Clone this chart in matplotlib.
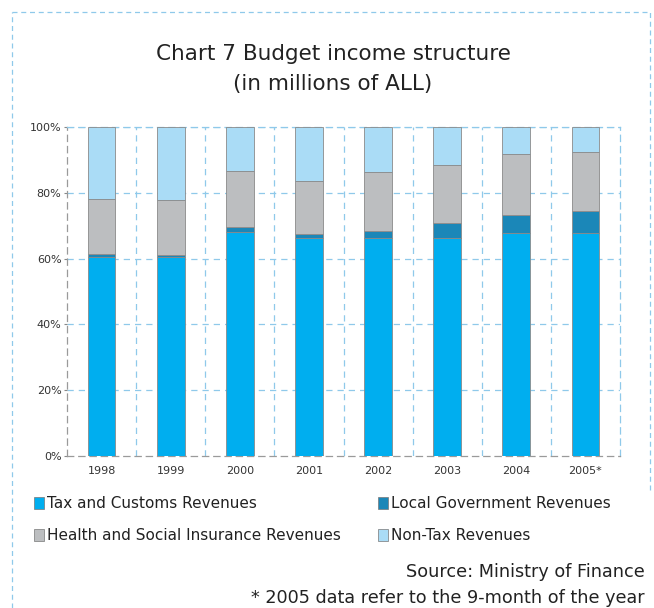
import numpy as np
import matplotlib.pyplot as plt
from matplotlib.patches import Rectangle
from matplotlib.lines import Line2D

# Budget income structure, shares of total (%)
years = ["1998", "1999", "2000", "2001", "2002", "2003", "2004", "2005*"]
tax_customs = [60.6, 60.5, 68.0, 66.4, 66.4, 66.4, 67.9, 67.9]
local_gov = [0.7, 0.7, 1.6, 1.1, 2.1, 4.3, 5.4, 6.7]
health_social = [16.7, 16.6, 17.1, 16.2, 17.7, 17.7, 18.4, 17.9]
non_tax = [22.0, 22.2, 13.3, 16.3, 13.8, 11.6, 8.3, 7.5]

labels = ["Tax and Customs Revenues", "Local Government Revenues",
          "Health and Social Insurance Revenues", "Non-Tax Revenues"]
colors = ["#00aeef", "#1b87b8", "#bcbec0", "#aadcf6"]
grid_col = "#8fc9ea"

fig = plt.figure(figsize=(6.54, 6.08), dpi=100)
ax = fig.add_axes([67 / 654, 1 - 456 / 608, 553 / 654, 329 / 608])

x = np.arange(len(years))
series = [tax_customs, local_gov, health_social, non_tax]
bottom = np.zeros(len(years))
for vals, col in zip(series, colors):
    ax.bar(x, vals, width=0.4, bottom=bottom, color=col,
           edgecolor="#8a8a8a", linewidth=0.6, zorder=3)
    bottom += np.array(vals)

ax.set_xlim(-0.5, len(years) - 0.5)
ax.set_ylim(0, 100)
ax.set_yticks(np.arange(0, 101, 20))
ax.set_yticklabels([f"{v}%" for v in range(0, 101, 20)])
ax.set_xticks(x)
ax.set_xticklabels(years)
ax.tick_params(axis="both", labelsize=8, length=2, color="#888888", pad=2,
               labelcolor="#333333")
ax.tick_params(axis="x", length=0, pad=7)

# dashed grid: horizontal at ticks, vertical between categories
for y in range(20, 101, 20):
    ax.axhline(y, color=grid_col, linestyle=(0, (5, 4)), linewidth=0.9, zorder=1)
for b in np.arange(0.5, len(years) - 0.5, 1):
    ax.axvline(b, color=grid_col, linestyle=(0, (5, 4)), linewidth=0.9, zorder=1)
for s in ax.spines.values():
    s.set_color(grid_col)
    s.set_linestyle((0, (5, 4)))
    s.set_linewidth(0.9)
ax.spines["left"].set_color("#9a9a9a")
ax.spines["bottom"].set_color("#9a9a9a")

# outer dashed frame
frame = dict(color=grid_col, linestyle=(0, (4, 3)), linewidth=0.9,
             transform=fig.transFigure)
fig.add_artist(Line2D([12 / 654, 650 / 654], [1 - 12 / 608] * 2, **frame))
fig.add_artist(Line2D([12 / 654] * 2, [0, 1 - 12 / 608], **frame))
fig.add_artist(Line2D([650 / 654] * 2, [1 - 490 / 608, 1 - 12 / 608], **frame))

fig.text(333 / 654, 1 - 54 / 608, "Chart 7 Budget income structure",
         ha="center", va="center", fontsize=15.5, color="#222222")
fig.text(333 / 654, 1 - 84 / 608, "(in millions of ALL)",
         ha="center", va="center", fontsize=15.5, color="#222222")

# legend, two rows
legend_pos = [(34, 503), (378, 503), (34, 535), (378, 535)]
for (lx, ly), lab, col in zip(legend_pos, labels, colors):
    fig.add_artist(Rectangle((lx / 654, 1 - (ly + 6) / 608), 10 / 654, 12 / 608,
                             facecolor=col, edgecolor="#777777", linewidth=0.5,
                             transform=fig.transFigure))
    fig.text((lx + 13) / 654, 1 - ly / 608, lab, ha="left", va="center",
             fontsize=11, color="#222222")

fig.text(645 / 654, 1 - 572 / 608, "Source: Ministry of Finance",
         ha="right", va="center", fontsize=12.7, color="#222222")
fig.text(645 / 654, 1 - 598 / 608, "* 2005 data refer to the 9-month of the year",
         ha="right", va="center", fontsize=12.7, color="#222222")

fig.savefig("out.png", dpi=100)
